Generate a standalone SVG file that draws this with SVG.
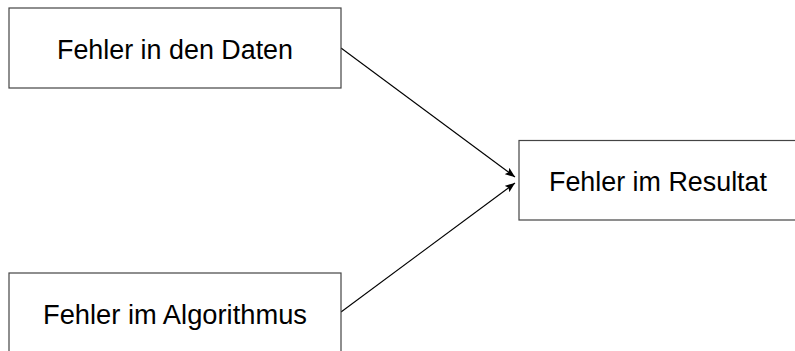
<svg xmlns="http://www.w3.org/2000/svg" width="795" height="351" viewBox="0 0 795 351">
<style>
.box{fill:#fff;stroke:#444;stroke-width:1.2}
.lbl{font-family:"Liberation Sans",Arial,sans-serif;font-size:27px;fill:#000;text-anchor:middle}
.edge{stroke:#000;stroke-width:1.1;fill:none}
</style>
<defs>
<marker id="arr" viewBox="0 0 10 8" refX="10" refY="4" markerWidth="10" markerHeight="8" markerUnits="userSpaceOnUse" orient="auto">
<path d="M0,0 L10,4 L0,8 L2,4 Z" fill="#000"/>
</marker>
</defs>
<rect width="795" height="351" fill="#fff"/>
<g id="connectors">
<line class="edge" x1="341" y1="48" x2="515" y2="177" marker-end="url(#arr)"/>
<line class="edge" x1="341" y1="312" x2="515" y2="183" marker-end="url(#arr)"/>
</g>
<g id="node-daten">
<rect class="box" x="9" y="8" width="332" height="80"/>
<text class="lbl" x="175" y="59" textLength="236" lengthAdjust="spacingAndGlyphs">Fehler in den Daten</text>
</g>
<g id="node-algorithmus">
<rect class="box" x="9" y="273" width="332" height="80"/>
<text class="lbl" x="175" y="324" textLength="264" lengthAdjust="spacingAndGlyphs">Fehler im Algorithmus</text>
</g>
<g id="node-resultat">
<rect class="box" x="519" y="140.5" width="278" height="79.5"/>
<text class="lbl" x="658" y="191" textLength="218" lengthAdjust="spacingAndGlyphs">Fehler im Resultat</text>
</g>
</svg>
